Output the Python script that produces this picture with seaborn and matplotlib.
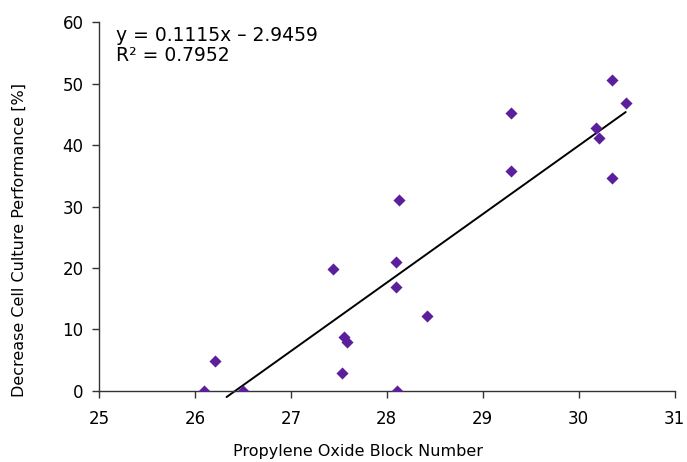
import numpy as np
import pandas as pd
import matplotlib
matplotlib.use("Agg")
import matplotlib.pyplot as plt
import seaborn as sns

# data
po_block = [26.09, 26.21, 26.50, 27.44, 27.55, 27.59, 27.53, 28.13, 28.10, 28.10,
            28.11, 28.42, 29.29, 29.29, 30.18, 30.21, 30.35, 30.35, 30.49]
decrease = [0.0, 4.8, 0.0, 19.9, 8.8, 8.0, 2.9, 31.0, 21.0, 16.9,
            0.0, 12.2, 45.3, 35.7, 42.8, 41.2, 50.6, 34.6, 46.8]

# trendline from the chart (y as fraction)
slope = 0.1115
intercept = -2.9459
r2 = 0.7952
trend_x = [26.33, 30.49]

df = pd.DataFrame({"x": po_block, "y": decrease})

sns.set_style("white")
plt.rcParams['font.family'] = ['DejaVu Sans']
plt.rcParams['text.color'] = 'black'
plt.rcParams['axes.labelcolor'] = 'black'
plt.rcParams['xtick.color'] = 'black'
plt.rcParams['ytick.color'] = 'black'

fig = plt.figure(figsize=(6.87, 4.62), dpi=100)
ax = fig.add_axes([0.144, 0.154, 0.838, 0.798])

sns.scatterplot(data=df, x="x", y="y", marker="D", s=38, color="#5b1f9e",
                edgecolor="#5b1f9e", linewidth=0, ax=ax, zorder=3)

tx = np.array(trend_x)
ty = (slope * tx + intercept) * 100
ax.plot(tx, ty, color="black", lw=1.4, clip_on=False, zorder=2)

ax.set_xlim(25, 31)
ax.set_ylim(0, 60)
ax.set_xticks(range(25, 32))
ax.set_yticks(range(0, 61, 10))
ax.set_xlabel("Propylene Oxide Block Number", fontsize=11.5)
ax.set_ylabel("Decrease Cell Culture Performance [%]", fontsize=11.5)
ax.xaxis.set_label_coords(0.45, -0.145)
ax.yaxis.set_label_coords(-0.126, 0.41)

ax.tick_params(axis="both", labelsize=12, length=5, width=1, color="#333333",
               direction="out", left=True, bottom=True)
ax.tick_params(axis="x", pad=9)
ax.tick_params(axis="y", pad=6)
sns.despine(ax=ax)
for sp in ["left", "bottom"]:
    ax.spines[sp].set_color("#333333")
    ax.spines[sp].set_linewidth(1)

ax.text(0.03, 0.99, f"y = {slope}x \u2013 {abs(intercept)}\nR\u00b2 = {r2}",
        transform=ax.transAxes, fontsize=13.5, va="top", ha="left",
        linespacing=1.05)

fig.savefig("out.png", dpi=100)
